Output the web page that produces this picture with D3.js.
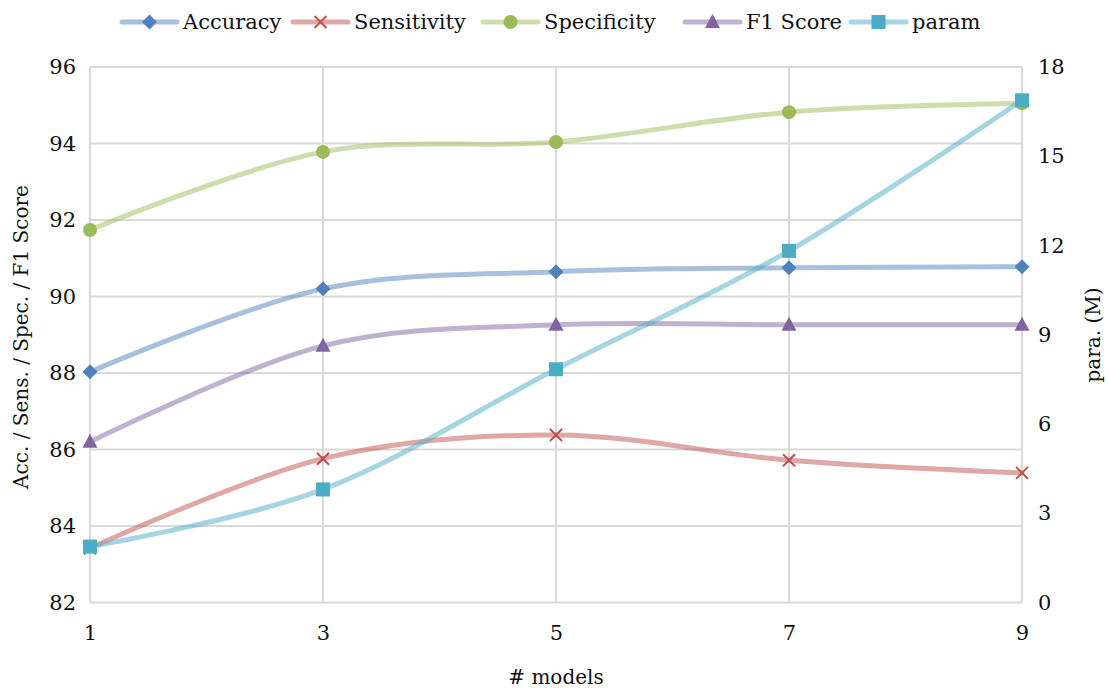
<!DOCTYPE html>
<html>
<head>
<meta charset="utf-8">
<script src="https://cdn.jsdelivr.net/npm/d3@7"></script>
<style>
  body { margin: 0; background: #fff; }
</style>
</head>
<body>
<div id="chart"></div>
<script>
// data
const models = [1, 3, 5, 7, 9];
const accuracy = [88.03, 90.2, 90.65, 90.75, 90.78];
const sensitivity = [83.42, 85.76, 86.38, 85.72, 85.39];
const specificity = [91.74, 93.78, 94.04, 94.82, 95.05];
const f1score = [86.2, 88.71, 89.26, 89.26, 89.26];
const param = [1.88, 3.8, 7.84, 11.82, 16.88];
const leftTicks = [82, 84, 86, 88, 90, 92, 94, 96];
const rightTicks = [0, 3, 6, 9, 12, 15, 18];

const series = [
  { name: "Accuracy", values: accuracy, color: "#4f81bd", shape: "diamond", axis: "left" },
  { name: "Sensitivity", values: sensitivity, color: "#c0504d", shape: "x", axis: "left" },
  { name: "Specificity", values: specificity, color: "#9bbb59", shape: "circle", axis: "left" },
  { name: "F1 Score", values: f1score, color: "#8064a2", shape: "triangle", axis: "left" },
  { name: "param", values: param, color: "#4bacc6", shape: "square", axis: "right" }
];

const FONT = "'DejaVu Serif', 'Liberation Serif', serif";
const width = 1108, height = 688;
const margin = { top: 67, right: 86, bottom: 85.5, left: 90 };

const svg = d3.select("#chart").append("svg")
  .attr("width", width)
  .attr("height", height)
  .attr("font-family", FONT);

const x = d3.scaleLinear().domain([1, 9]).range([margin.left, width - margin.right]);
const yL = d3.scaleLinear().domain([82, 96]).range([height - margin.bottom, margin.top]);
const yR = d3.scaleLinear().domain([0, 18]).range([height - margin.bottom, margin.top]);

// grid
const grid = svg.append("g").attr("stroke", "#d9d9d9").attr("stroke-width", 2);
grid.selectAll(".h").data(leftTicks).enter().append("line")
  .attr("x1", x(1)).attr("x2", x(9))
  .attr("y1", d => yL(d)).attr("y2", d => yL(d));
grid.selectAll(".v").data(models).enter().append("line")
  .attr("x1", d => x(d)).attr("x2", d => x(d))
  .attr("y1", yL(82)).attr("y2", yL(96));

// axes (labels only)
const axL = svg.append("g").attr("transform", `translate(${margin.left - 14},0)`)
  .call(d3.axisLeft(yL).tickValues(leftTicks).tickSize(0).tickPadding(0));
const axR = svg.append("g").attr("transform", `translate(${width - margin.right + 16},0)`)
  .call(d3.axisRight(yR).tickValues(rightTicks).tickSize(0).tickPadding(0));
const axX = svg.append("g").attr("transform", `translate(0,${height - margin.bottom + 23})`)
  .call(d3.axisBottom(x).tickValues(models).tickSize(0).tickPadding(0));
[axL, axR, axX].forEach(a => {
  a.attr("font-family", FONT);
  a.select(".domain").remove();
  a.selectAll("text").style("font-family", FONT).style("font-size", "21px").attr("fill", "#111");
});
axX.selectAll("text").attr("dy", "0.71em");

// axis titles
svg.append("text")
  .attr("transform", `translate(28,337) rotate(-90)`)
  .attr("text-anchor", "middle")
  .style("font-family", FONT).style("font-size", "20px").attr("fill", "#111")
  .text("Acc. / Sens. / Spec. / F1 Score");
svg.append("text")
  .attr("transform", `translate(1100,335) rotate(-90)`)
  .attr("text-anchor", "middle")
  .style("font-family", FONT).style("font-size", "20px").attr("fill", "#111")
  .text("para. (M)");
svg.append("text")
  .attr("x", x(5)).attr("y", 684)
  .attr("text-anchor", "middle")
  .style("font-family", FONT).style("font-size", "20px").attr("fill", "#111")
  .text("# models");

// lines
const curve = d3.curveCardinal.tension(0);
series.forEach(s => {
  const yy = s.axis === "left" ? yL : yR;
  const line = d3.line().x((d, i) => x(models[i])).y(d => yy(d)).curve(curve);
  svg.append("path")
    .datum(s.values)
    .attr("d", line)
    .attr("fill", "none")
    .attr("stroke", s.color)
    .attr("stroke-opacity", 0.5)
    .attr("stroke-width", 5)
    .attr("stroke-linecap", "round");
});

function marker(g, shape, color) {
  if (shape === "diamond") {
    g.append("path").attr("d", "M0,-7.5L7.5,0L0,7.5L-7.5,0Z").attr("fill", color);
  } else if (shape === "x") {
    g.append("path").attr("d", "M-6,-6L6,6M-6,6L6,-6").attr("stroke", color).attr("stroke-width", 2);
  } else if (shape === "circle") {
    g.append("circle").attr("r", 7).attr("fill", color);
  } else if (shape === "triangle") {
    g.append("path").attr("d", "M0,-8L7.5,6L-7.5,6Z").attr("fill", color);
  } else {
    g.append("rect").attr("x", -7).attr("y", -7).attr("width", 14).attr("height", 14).attr("fill", color);
  }
}

// markers
series.forEach(s => {
  const yy = s.axis === "left" ? yL : yR;
  s.values.forEach((v, i) => {
    const g = svg.append("g").attr("transform", `translate(${x(models[i])},${yy(v)})`);
    marker(g, s.shape, s.color);
  });
});

// legend
const legendX = [122, 293, 483, 685, 851];
series.forEach((s, i) => {
  const g = svg.append("g").attr("transform", `translate(${legendX[i]},22)`);
  g.append("line").attr("x1", 0).attr("x2", 55)
    .attr("stroke", s.color).attr("stroke-opacity", 0.5)
    .attr("stroke-width", 5).attr("stroke-linecap", "round");
  const m = g.append("g").attr("transform", "translate(27.5,0)");
  marker(m, s.shape, s.color);
  g.append("text").attr("x", 61).attr("y", 0).attr("dy", "0.35em")
    .style("font-family", FONT).style("font-size", "21px").attr("fill", "#111")
    .text(s.name);
});
</script>
</body>
</html>
